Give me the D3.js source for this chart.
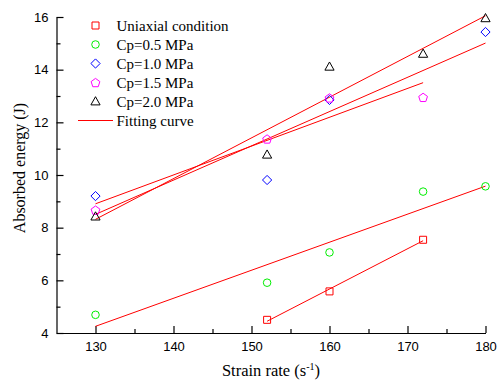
<!DOCTYPE html>
<html><head><meta charset="utf-8">
<script src="https://cdn.jsdelivr.net/npm/d3@7"></script>
<style>body{margin:0;background:#fff}svg{display:block}</style>
</head><body>
<script>
const strainRateUni = [152, 160, 172];
const energyUni = [4.5, 5.58, 7.54];
const strainRate05 = [130, 152, 160, 172, 180];
const energy05 = [4.69, 5.91, 7.06, 9.37, 9.57];
const strainRate10 = [130, 152, 160, 180];
const energy10 = [9.2, 9.81, 12.85, 15.43];
const strainRate15 = [130, 152, 160, 172];
const energy15 = [8.67, 11.37, 12.93, 12.95];
const strainRate20 = [130, 152, 160, 172, 180];
const energy20 = [8.42, 10.77, 14.11, 14.6, 15.95];
const seriesNames = ["Uniaxial condition", "Cp=0.5 MPa", "Cp=1.0 MPa", "Cp=1.5 MPa", "Cp=2.0 MPa"];
const fitLabel = "Fitting curve";
const xTicks = [130, 140, 150, 160, 170, 180];
const yTicks = [4, 6, 8, 10, 12, 14, 16];

const W = 500, H = 384;
const svg = d3.select("body").append("svg").attr("width", W).attr("height", H);
const x = d3.scaleLinear().domain([125, 180]).range([56.5, 485.5]);
const y = d3.scaleLinear().domain([4, 16]).range([333, 17]);

const series = [
  {name: seriesNames[0], xs: strainRateUni, ys: energyUni, color: "#ff0000", shape: "square"},
  {name: seriesNames[1], xs: strainRate05, ys: energy05, color: "#00ee00", shape: "circle"},
  {name: seriesNames[2], xs: strainRate10, ys: energy10, color: "#0000ff", shape: "diamond"},
  {name: seriesNames[3], xs: strainRate15, ys: energy15, color: "#ff00ff", shape: "pentagon"},
  {name: seriesNames[4], xs: strainRate20, ys: energy20, color: "#000000", shape: "triangle"}
];

function shapePath(shape) {
  if (shape === "square") return "M-3.5,-3.5H3.5V3.5H-3.5Z";
  if (shape === "circle") return d3.symbol(d3.symbolCircle, 45)();
  if (shape === "diamond") return "M0,-4.6L4.6,0L0,4.6L-4.6,0Z";
  if (shape === "triangle") return "M0,-4.8L4.6,3.4L-4.6,3.4Z";
  if (shape === "pentagon") {
    const pts = d3.range(5).map(i => {
      const a = -Math.PI / 2 + i * 2 * Math.PI / 5;
      return [4.6 * Math.cos(a), 4.6 * Math.sin(a) + 0.5];
    });
    return "M" + pts.map(p => p.join(",")).join("L") + "Z";
  }
}

// axes
const gx = svg.append("g").attr("transform", "translate(0,333)")
  .call(d3.axisBottom(x).tickValues(xTicks).tickSize(-7).tickSizeOuter(0).tickPadding(8.5));
gx.append("g").call(d3.axisBottom(x).tickValues([135,145,155,165,175]).tickSize(-4).tickSizeOuter(0).tickFormat(""))
  .select(".domain").remove();
const gy = svg.append("g").attr("transform", "translate(56.5,0)")
  .call(d3.axisLeft(y).tickValues(yTicks).tickSize(-7).tickSizeOuter(0).tickPadding(8));
gy.append("g").call(d3.axisLeft(y).tickValues([5,7,9,11,13,15]).tickSize(-4).tickSizeOuter(0).tickFormat(""))
  .select(".domain").remove();
svg.selectAll(".tick text").attr("font-family", "'Liberation Sans', Arial, sans-serif").attr("font-size", 13).attr("fill", "#000");
svg.selectAll(".domain, .tick line").attr("stroke", "#000").attr("stroke-width", 1.2);

// fitting lines
series.forEach(s => {
  const mx = d3.mean(s.xs), my = d3.mean(s.ys);
  const sxy = d3.sum(s.xs, (v, i) => (v - mx) * (s.ys[i] - my));
  const sxx = d3.sum(s.xs, v => (v - mx) * (v - mx));
  const b = sxy / sxx, a = my - b * mx;
  const x0 = d3.min(s.xs), x1 = d3.max(s.xs);
  svg.append("line")
    .attr("x1", x(x0)).attr("y1", y(a + b * x0))
    .attr("x2", x(x1)).attr("y2", y(a + b * x1))
    .attr("stroke", "#ff0000").attr("stroke-width", 1);
});

// markers
series.forEach(s => {
  svg.append("g").selectAll("path").data(s.xs.map((v, i) => [v, s.ys[i]])).join("path")
    .attr("transform", d => `translate(${x(d[0])},${y(d[1])})`)
    .attr("d", shapePath(s.shape))
    .attr("fill", "none").attr("stroke", s.color).attr("stroke-width", 1);
});

// legend
const lg = svg.append("g").attr("font-family", "'Liberation Serif', 'Times New Roman', serif").attr("font-size", 15);
series.forEach((s, i) => {
  const yy = 25.5 + i * 19;
  lg.append("path").attr("transform", `translate(95.5,${yy})`).attr("d", shapePath(s.shape))
    .attr("fill", "none").attr("stroke", s.color).attr("stroke-width", 1);
  lg.append("text").attr("x", 116.5).attr("y", yy).attr("dy", "0.35em").text(s.name);
});
lg.append("line").attr("x1", 78).attr("x2", 113).attr("y1", 120.5).attr("y2", 120.5).attr("stroke", "#ff0000");
lg.append("text").attr("x", 116.5).attr("y", 120.5).attr("dy", "0.35em").text(fitLabel);

// axis titles
const xt = svg.append("text").attr("x", 271).attr("y", 376).attr("text-anchor", "middle")
  .attr("font-family", "'Liberation Serif', 'Times New Roman', serif").attr("font-size", 16.5);
xt.append("tspan").text("Strain rate (s");
xt.append("tspan").attr("font-size", 10).attr("dy", -6).text("-1");
xt.append("tspan").attr("dy", 6).text(")");
svg.append("text").attr("transform", "translate(25,168) rotate(-90)").attr("text-anchor", "middle")
  .attr("font-family", "'Liberation Serif', 'Times New Roman', serif").attr("font-size", 16)
  .text("Absorbed energy (J)");
</script>
</body></html>
